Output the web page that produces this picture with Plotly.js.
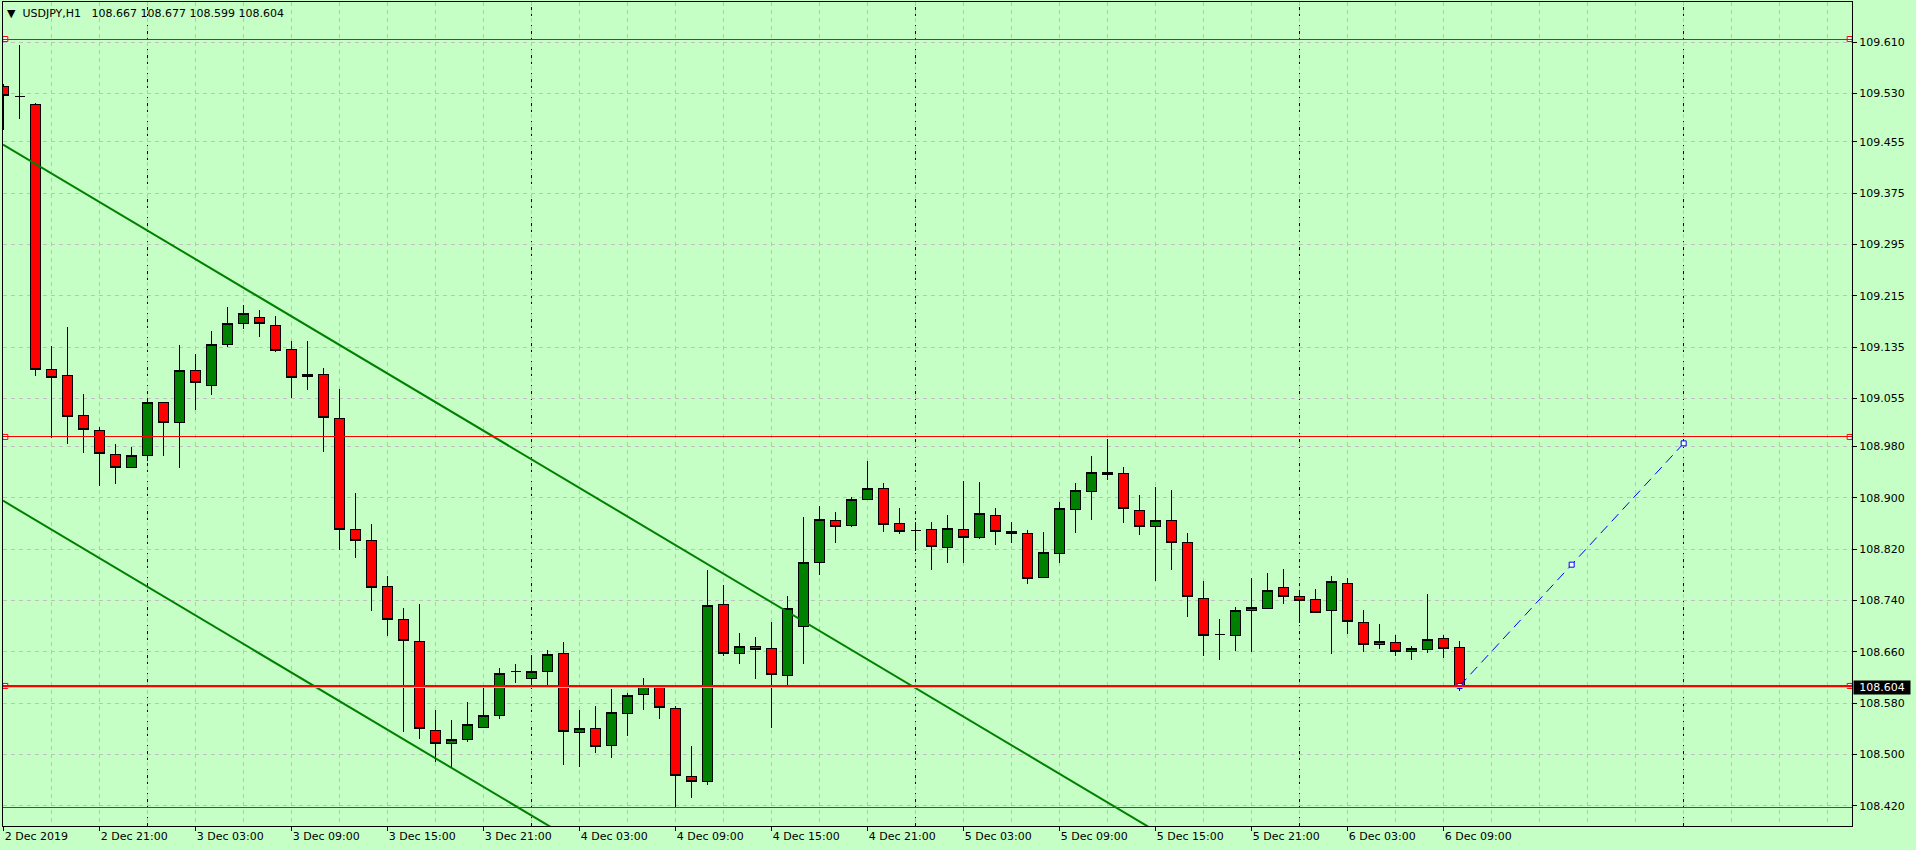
<!DOCTYPE html>
<html>
<head>
<meta charset="utf-8">
<script src="https://cdn.plot.ly/plotly-3.0.1.min.js"></script>
<style>
html,body{margin:0;padding:0;background:#C5FFC5;}
#chart{width:1916px;height:850px;}
#chart .shapelayer path{shape-rendering:crispEdges;}
#chart .boxlayer path{shape-rendering:crispEdges;}
</style>
</head>
<body>
<div id="chart"></div>
<script>
// ---------- data ----------
const symbolName = 'USDJPY,H1';
const firstBarUTC = [2019, 11, 2, 15]; // 2 Dec 2019 15:00, hourly bars

const open = [
109.541,109.525,109.513,109.100,109.091,109.029,109.005,108.968,108.947,108.966,
109.049,109.017,109.099,109.075,109.139,109.172,109.181,109.169,109.132,109.089,
109.092,109.024,108.851,108.834,108.762,108.711,108.677,108.538,108.518,108.524,
108.543,108.561,108.629,108.619,108.630,108.658,108.535,108.540,108.514,108.564,
108.594,108.605,108.572,108.466,108.458,108.734,108.658,108.669,108.666,108.624,
108.700,108.800,108.865,108.857,108.897,108.915,108.860,108.849,108.851,108.822,
108.851,108.838,108.873,108.848,108.845,108.776,108.813,108.882,108.910,108.940,
108.938,108.881,108.856,108.865,108.831,108.744,108.687,108.686,108.725,108.728,
108.761,108.747,108.742,108.725,108.767,108.706,108.672,108.675,108.661,108.664,
108.681,108.667];
const high = [
109.545,109.606,109.515,109.137,109.166,109.062,109.010,108.984,108.979,109.055,
109.050,109.138,109.124,109.160,109.198,109.201,109.193,109.183,109.145,109.144,
109.102,109.070,108.908,108.859,108.778,108.729,108.735,108.570,108.554,108.582,
108.607,108.635,108.641,108.653,108.663,108.676,108.570,108.576,108.602,108.596,
108.619,108.606,108.576,108.513,108.788,108.764,108.690,108.683,108.707,108.747,
108.870,108.887,108.878,108.901,108.958,108.923,108.884,108.863,108.863,108.873,
108.926,108.925,108.884,108.863,108.850,108.847,108.894,108.924,108.965,108.992,
108.948,108.904,108.917,108.912,108.845,108.770,108.712,108.730,108.776,108.783,
108.789,108.756,108.758,108.778,108.775,108.726,108.703,108.686,108.669,108.751,
108.686,108.677];
const low = [
109.474,109.491,109.090,108.994,108.984,108.970,108.919,108.922,108.947,108.958,
108.966,108.946,109.037,109.061,109.135,109.163,109.151,109.128,109.055,109.068,
108.971,108.819,108.806,108.724,108.685,108.536,108.525,108.489,108.480,108.519,
108.543,108.556,108.612,108.603,108.604,108.484,108.480,108.503,108.494,108.529,
108.570,108.556,108.418,108.433,108.453,108.654,108.642,108.618,108.542,108.609,
108.642,108.780,108.830,108.854,108.897,108.847,108.844,108.818,108.788,108.798,
108.799,108.836,108.827,108.830,108.766,108.775,108.798,108.846,108.866,108.928,
108.861,108.843,108.771,108.788,108.715,108.654,108.648,108.662,108.660,108.728,
108.735,108.705,108.722,108.657,108.688,108.660,108.664,108.654,108.647,108.658,
108.651,108.599];
const close = [
109.527,109.525,109.100,109.088,109.027,109.007,108.969,108.947,108.966,109.049,
109.017,109.099,109.080,109.139,109.172,109.188,109.171,109.129,109.088,109.092,
109.025,108.851,108.834,108.761,108.711,108.678,108.540,108.518,108.523,108.547,
108.561,108.627,108.629,108.630,108.656,108.536,108.540,108.513,108.566,108.592,
108.607,108.573,108.468,108.458,108.733,108.658,108.669,108.664,108.625,108.728,
108.800,108.867,108.856,108.898,108.915,108.859,108.848,108.849,108.824,108.853,
108.838,108.876,108.848,108.845,108.775,108.815,108.884,108.912,108.940,108.937,
108.884,108.856,108.865,108.831,108.747,108.686,108.687,108.725,108.730,108.756,
108.747,108.740,108.722,108.769,108.708,108.672,108.677,108.661,108.666,108.680,
108.666,108.604];

const priceTicks = [108.420,108.500,108.580,108.660,108.740,108.820,108.900,108.980,
                    109.055,109.135,109.215,109.295,109.375,109.455,109.530,109.610];
const timeTickLabels = ['2 Dec 2019','2 Dec 21:00','3 Dec 03:00','3 Dec 09:00','3 Dec 15:00',
  '3 Dec 21:00','4 Dec 03:00','4 Dec 09:00','4 Dec 15:00','4 Dec 21:00','5 Dec 03:00',
  '5 Dec 09:00','5 Dec 15:00','5 Dec 21:00','6 Dec 03:00','6 Dec 09:00'];

// horizontal line objects (price levels)
const selectedLevels = [109.615, 108.995];
const plainLevels = [108.418];
const currentLevel = 108.607;
const bidPrice = 108.604;

// trend channel anchors: [bar index, price]
const upperChannel = [[0, 109.450], [60, 108.559]];
const lowerChannel = [[0, 108.895], [30, 108.4495]];
// projection line anchors
const projectionBars = [91, 105];
const projectionPrices = [108.607, 108.985];

// ---------- helpers ----------
const HOUR = 3600000;
const t0 = Date.UTC(firstBarUTC[0], firstBarUTC[1], firstBarUTC[2], firstBarUTC[3]);
function pad(n, w) { return String(n).padStart(w || 2, '0'); }
function fmt(ms) {
  const d = new Date(ms);
  return d.getUTCFullYear() + '-' + pad(d.getUTCMonth() + 1) + '-' + pad(d.getUTCDate()) + ' ' +
    pad(d.getUTCHours()) + ':' + pad(d.getUTCMinutes()) + ':' + pad(d.getUTCSeconds()) + '.' +
    pad(d.getUTCMilliseconds(), 3);
}
function barTime(b) { return fmt(t0 + b * HOUR); }
const times = open.map((_, i) => barTime(i));

const xStartBar = -0.044, xEndBar = 115.52;
const xRange = [barTime(xStartBar), barTime(xEndBar)];
const yRange = [108.3888, 109.6727];

function lineAt(anchors, b) {
  const [b0, p0] = anchors[0], [b1, p1] = anchors[1];
  return p0 + (b - b0) * (p1 - p0) / (b1 - b0);
}

const BG = '#C5FFC5';
const GRID = '#C0C0C0';
const FONT = 'DejaVu Sans, Verdana, sans-serif';

// ---------- traces ----------
const traces = [];
traces.push({
  type: 'candlestick', x: times, open: open, high: high, low: low, close: close,
  increasing: {line: {color: '#000000', width: 1}, fillcolor: '#008000'},
  decreasing: {line: {color: '#000000', width: 1}, fillcolor: '#FF0000'},
  whiskerwidth: 0, hoverinfo: 'skip', showlegend: false
});

[upperChannel, lowerChannel].forEach(ch => {
  traces.push({
    type: 'scatter', mode: 'lines',
    x: [barTime(xStartBar), barTime(xEndBar)],
    y: [lineAt(ch, xStartBar), lineAt(ch, xEndBar)],
    line: {color: '#008000', width: 2}, hoverinfo: 'skip', showlegend: false
  });
});

// projection dashed line
traces.push({
  type: 'scatter', mode: 'lines',
  x: projectionBars.map(barTime), y: projectionPrices,
  line: {color: '#0000FF', width: 1, dash: '10px,6px'}, hoverinfo: 'skip', showlegend: false
});
const midBar = (projectionBars[0] + projectionBars[1]) / 2;
const midPrice = (projectionPrices[0] + projectionPrices[1]) / 2;
traces.push({
  type: 'scatter', mode: 'markers',
  x: [barTime(projectionBars[0]), barTime(midBar), barTime(projectionBars[1])],
  y: [projectionPrices[0], midPrice, projectionPrices[1]],
  marker: {symbol: 'square', size: 5, color: '#FFFFFF', line: {color: '#0000FF', width: 1}},
  cliponaxis: false, hoverinfo: 'skip', showlegend: false
});

// anchor squares on selected horizontal lines
const squareLevels = selectedLevels.concat([currentLevel]);
const sqX = [], sqY = [];
squareLevels.forEach(p => { sqX.push(barTime(0.1), barTime(115.375)); sqY.push(p, p); });
traces.push({
  type: 'scatter', mode: 'markers', x: sqX, y: sqY,
  marker: {symbol: 'square', size: 5, color: '#FFFFFF', line: {color: '#FF0000', width: 1}},
  cliponaxis: false, hoverinfo: 'skip', showlegend: false
});

// ---------- shapes ----------
const shapes = [];
// period separators at midnights
for (let b = 0; b <= xEndBar; b++) {
  const d = new Date(t0 + b * HOUR);
  if (d.getUTCHours() === 0) {
    shapes.push({type: 'line', xref: 'x', yref: 'paper', x0: barTime(b), x1: barTime(b), y0: 0, y1: 1,
      line: {color: '#000000', width: 1, dash: '3px,3px'}, layer: 'below'});
  }
}
// bid line (gray)
shapes.push({type: 'line', xref: 'paper', yref: 'y', x0: 0, x1: 1, y0: bidPrice, y1: bidPrice,
  line: {color: '#C0C0C0', width: 1}, layer: 'above'});
selectedLevels.concat(plainLevels).forEach(p => {
  shapes.push({type: 'line', xref: 'paper', yref: 'y', x0: 0, x1: 1, y0: p, y1: p,
    line: {color: '#FF0000', width: 1}, layer: 'above'});
});
shapes.push({type: 'line', xref: 'paper', yref: 'y', x0: 0, x1: 1, y0: currentLevel, y1: currentLevel,
  line: {color: '#FF0000', width: 2}, layer: 'above'});

// ---------- layout ----------
const last = open.length - 1;
const headerText = '\u25BC\u00A0\u00A0' + symbolName + '\u00A0\u00A0\u00A0' +
  [open[last], high[last], low[last], close[last]].map(v => v.toFixed(3)).join(' ');

const layout = {
  width: 1916, height: 850,
  margin: {l: 3, r: 64, t: 2, b: 24, pad: 0},
  paper_bgcolor: BG, plot_bgcolor: BG,
  font: {family: FONT, size: 11, color: '#000000'},
  title: {text: headerText, xref: 'container', yref: 'container', x: 7 / 1916, xanchor: 'left',
          y: 1 - 13 / 850, yanchor: 'middle', font: {family: FONT, size: 11, color: '#000000'}},
  showlegend: false,
  dragmode: false,
  xaxis: {
    type: 'date', range: xRange, rangeslider: {visible: false},
    tickmode: 'array', tickvals: timeTickLabels.map((_, i) => times[i * 6]), ticktext: timeTickLabels,
    ticks: 'outside', ticklen: 4, tickcolor: '#000000', tickwidth: 1,
    ticklabelposition: 'outside right',
    showline: true, linecolor: '#000000', linewidth: 1, mirror: true,
    showgrid: true, gridcolor: GRID, gridwidth: 1, griddash: '4px,4px',
    minor: {tickmode: 'linear', tick0: times[0], dtick: 3 * HOUR, showgrid: true, gridcolor: GRID,
            gridwidth: 1, griddash: '4px,4px', ticks: ''},
    zeroline: false, fixedrange: true,
    tickfont: {family: FONT, size: 11, color: '#000000'}
  },
  yaxis: {
    range: yRange, side: 'right',
    tickmode: 'array', tickvals: priceTicks, ticktext: priceTicks.map(v => v.toFixed(3)),
    ticks: 'outside', ticklen: 4, tickcolor: '#000000', tickwidth: 1,
    showline: true, linecolor: '#000000', linewidth: 1, mirror: true,
    showgrid: true, gridcolor: GRID, gridwidth: 1, griddash: '4px,4px',
    zeroline: false, fixedrange: true,
    tickfont: {family: FONT, size: 11, color: '#000000'}
  },
  boxgap: 0.375, boxgroupgap: 0,
  shapes: shapes,
  annotations: [{
    xref: 'paper', yref: 'y', x: 1, y: bidPrice, xanchor: 'left', yanchor: 'middle', xshift: 1,
    text: bidPrice.toFixed(3), showarrow: false, bgcolor: '#000000', borderpad: 0, width: 56,
    align: 'center', font: {family: FONT, size: 11, color: '#FFFFFF'}
  }]
};

Plotly.newPlot('chart', traces, layout, {displayModeBar: false, staticPlot: true});
</script>
</body>
</html>
